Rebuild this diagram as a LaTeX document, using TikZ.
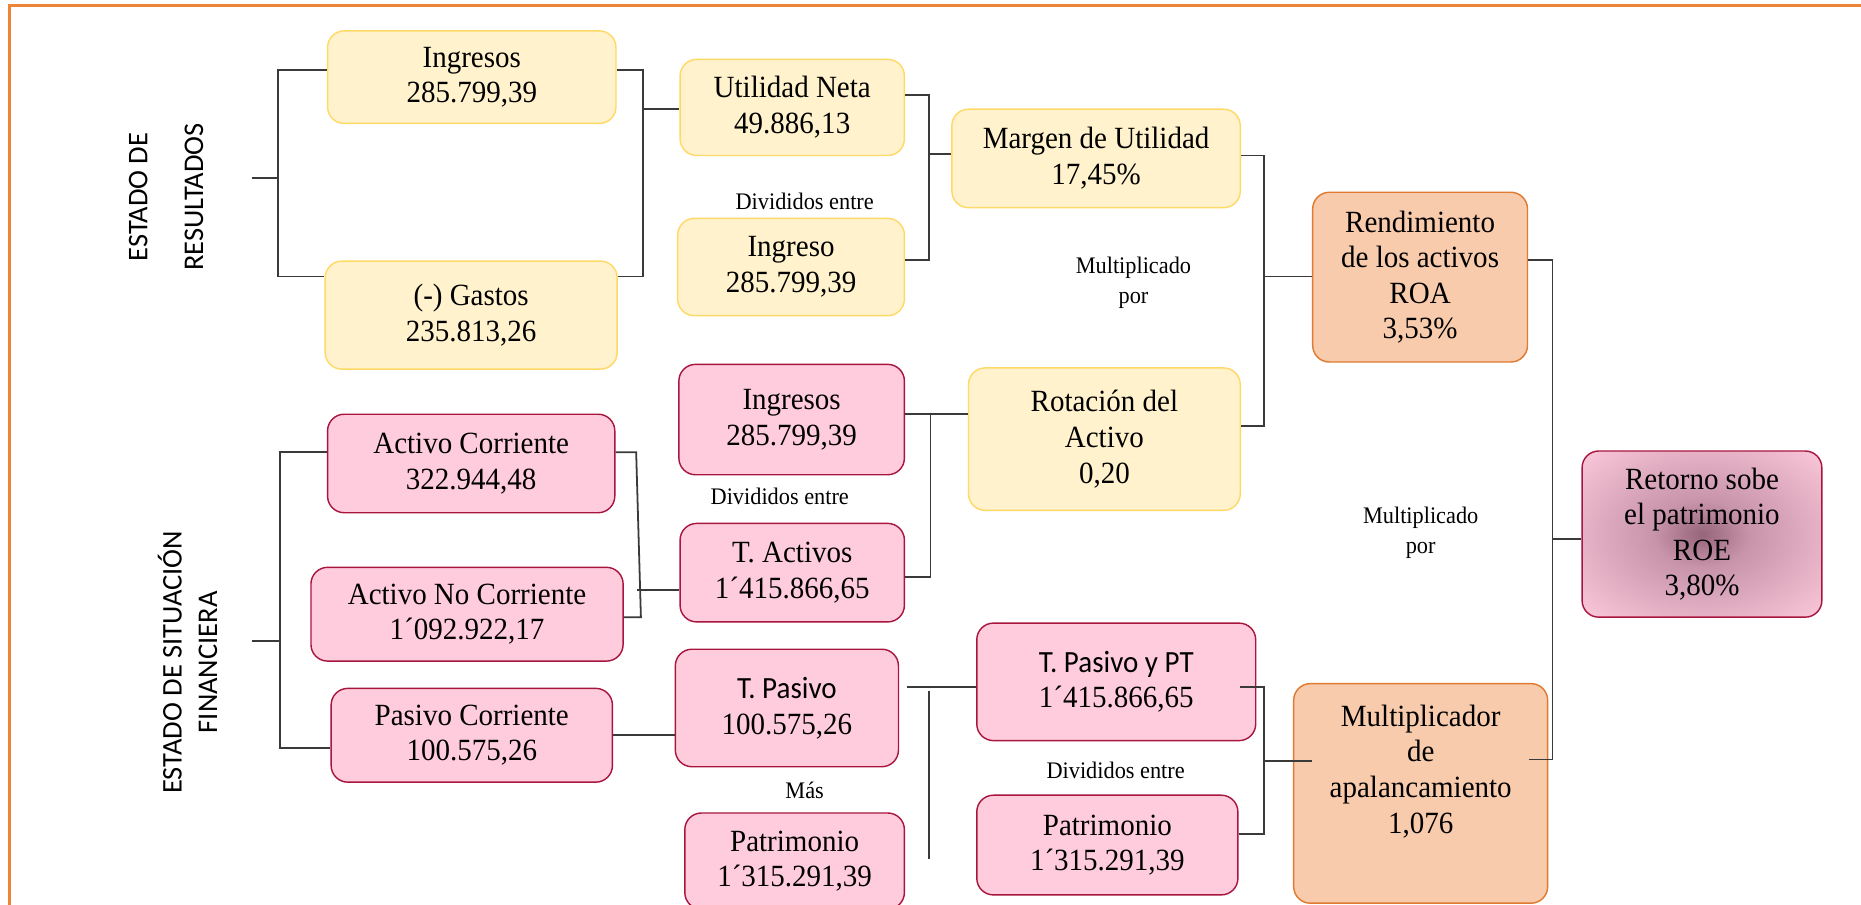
\documentclass[tikz,border=0pt]{standalone}
\usepackage{fontspec}
\setmainfont{Liberation Serif}[FakeStretch=0.94]
\newfontfamily\calfont{Carlito}[FakeStretch=0.94]
\newfontfamily\labfont{Carlito}
\usetikzlibrary{calc}
\definecolor{yfill}{HTML}{FFF2CC}
\definecolor{ydraw}{HTML}{FFD966}
\definecolor{pfill}{HTML}{FFCCDD}
\definecolor{pdraw}{HTML}{A8163F}
\definecolor{ofill}{HTML}{F8CBAD}
\definecolor{odraw}{HTML}{DF7A30}
\definecolor{framecol}{HTML}{EE8536}
\definecolor{linecol}{HTML}{3A3A3A}
\definecolor{roedark}{HTML}{966579}
\definecolor{roemid}{HTML}{C894AA}
\definecolor{roepink}{HTML}{F8C4D7}
\pgfdeclareradialshading{roeshade}{\pgfpoint{0bp}{0bp}}{color(0bp)=(roedark); color(10bp)=(roemid); color(34bp)=(roepink); color(50bp)=(roepink)}
\tikzset{
  box/.style={rounded corners=14pt, line width=1.2pt, align=center, inner sep=0pt,
    font=\fontsize{26}{30}\selectfont},
  ybox/.style={box, fill=yfill, draw=ydraw},
  pbox/.style={box, fill=pfill, draw=pdraw},
  obox/.style={box, fill=ofill, draw=odraw},
  conn/.style={draw=linecol, line width=1.5pt},
  lbl/.style={font=\fontsize{20}{25}\selectfont, align=center, inner sep=0pt},
  side/.style={font=\labfont\fontsize{24}{24}\selectfont, align=center, rotate=90, inner sep=0pt},
}
\begin{document}
\begin{tikzpicture}[x=1pt, y=-1pt]
\useasboundingbox (0,0) rectangle (1568,762);
\draw[framecol, line width=2.4pt] (1580,4.5) -- (8.3,4.5) -- (8.3,780);

% side titles
\node[side] (er) at (140,166) {ESTADO DE\\[23pt]RESULTADOS};
\node[side] (esf) at (158,558) {ESTADO DE SITUACIÓN\\[6pt]FINANCIERA};

% yellow boxes
\node[ybox, minimum width=243pt, minimum height=78pt] (ing1) at (397.5,65) {Ingresos\\285.799,39};
\node[ybox, minimum width=246pt, minimum height=91pt] (gas) at (397,265.5) {(-) Gastos\\235.813,26};
\node[ybox, minimum width=189pt, minimum height=81pt] (util) at (667.5,90.5) {Utilidad Neta\\49.886,13};
\node[ybox, minimum width=191pt, minimum height=82pt] (ing2) at (666.5,225) {Ingreso\\285.799,39};
\node[ybox, minimum width=243pt, minimum height=83pt] (marg) at (923.5,133.5) {Margen de Utilidad\\17,45\%};
\node[ybox, minimum width=229pt, minimum height=120pt] (rot) at (930.5,370) {Rotación del\\Activo\\0,20};

% pink boxes
\node[pbox, minimum width=242pt, minimum height=83pt] (actc) at (397,390.5) {Activo Corriente\\322.944,48};
\node[pbox, minimum width=263pt, minimum height=79pt] (actnc) at (393.5,517.5) {Activo No Corriente\\1´092.922,17};
\node[pbox, minimum width=237pt, minimum height=79pt] (pasc) at (397.5,619.5) {Pasivo Corriente\\100.575,26};
\node[pbox, minimum width=190pt, minimum height=93pt] (ing3) at (667,353.5) {Ingresos\\285.799,39};
\node[pbox, minimum width=189pt, minimum height=83pt] (tact) at (667.5,482.5) {T. Activos\\1´415.866,65};
\node[pbox, minimum width=188pt, minimum height=99pt] (tpas) at (663,596.5) {{\calfont T. Pasivo}\\100.575,26};
\node[pbox, minimum width=185pt, minimum height=81pt] (pat1) at (669.5,725.5) {Patrimonio\\1´315.291,39};
\node[pbox, minimum width=235pt, minimum height=99pt] (tpaspt) at (940.5,574.5) {{\calfont T. Pasivo y PT}\\1´415.866,65};
\node[pbox, minimum width=220pt, minimum height=84pt] (pat2) at (933,712) {Patrimonio\\1´315.291,39};
\node[box, draw=pdraw, shading=roeshade, minimum width=202pt, minimum height=140pt] (roe) at (1434,450) {Retorno sobe\\el patrimonio\\ROE\\3,80\%};

% orange boxes
\node[obox, minimum width=181pt, minimum height=143pt] (roa) at (1196.5,233.5) {Rendimiento\\de los activos\\ROA\\3,53\%};
\node[obox, minimum width=214pt, minimum height=185pt] (mult) at (1197,668.5) {};
\node[box, draw=none] (multtxt) at (1197,650) {Multiplicador\\de\\apalancamiento\\1,076};

% small labels
\node[lbl] (div1) at (678,170) {Divididos entre};
\node[lbl] (div2) at (657,418) {Divididos entre};
\node[lbl] (div3) at (940,649) {Divididos entre};
\node[lbl] (mas) at (678,666) {Más};
\node[lbl] (mul1) at (955,238) {Multiplicado\\por};
\node[lbl] (mul2) at (1197,449) {Multiplicado\\por};

% connectors
\coordinate (erend) at (212,150);
\draw[conn] (erend) -- (234,150);
\draw[conn] (ing1.west |- 0,59) -- (234,59) -- (234,233) -- (gas.west |- 0,233);
\draw[conn] (ing1.east |- 0,59) -- (542,59) -- (542,233) -- (gas.east |- 0,233);
\draw[conn] (542,92) -- (util.west |- 0,92);
\draw[conn] (util.east |- 0,80) -- (783,80) -- (783,219) -- (ing2.east |- 0,219);
\draw[conn] (783,130) -- (marg.west |- 0,130);
\draw[conn] (marg.east |- 0,131) -- (1065,131) -- (1065,359) -- (rot.east |- 0,359);
\draw[conn] (1065,233) -- (roa.west |- 0,233);
\draw[conn] (roa.east |- 0,219) -- (1308,219) -- (1308,640) -- ($(mult.east |- 0,640)+(-16,0)$);
\draw[conn] (1308,454) -- (roe.west |- 0,454);

\coordinate (esfend) at (212,540);
\draw[conn] (esfend) -- (236,540);
\draw[conn] (actc.west |- 0,381) -- (236,381) -- (236,630) -- (pasc.west |- 0,630);
\draw[conn] (actc.east |- 0,381) -- (536,381) -- (540,520) -- (actnc.east |- 0,520);
\draw[conn] (537,497) -- (tact.west |- 0,497);
\draw[conn] (pasc.east |- 0,619) -- (tpas.west |- 0,619);
\draw[conn] (ing3.east |- 0,349) -- (rot.west |- 0,349);
\draw[conn] (784,349) -- (784,486) -- (tact.east |- 0,486);
\draw[conn] (tpas.east |- 0,579) ++(7,0) -- (tpaspt.west |- 0,579);
\coordinate (vtop) at (783,582);
\coordinate (vbot) at (783,724);
\draw[conn] (vtop) -- (vbot);
\draw[conn] (tpaspt.east |- 0,579) ++(-14,0) -- (1065,579) -- (1065,703) -- (pat2.east |- 0,703);
\draw[conn] (1065,641) -- ($(mult.west |- 0,641)+(16,0)$);
\end{tikzpicture}
\end{document}
